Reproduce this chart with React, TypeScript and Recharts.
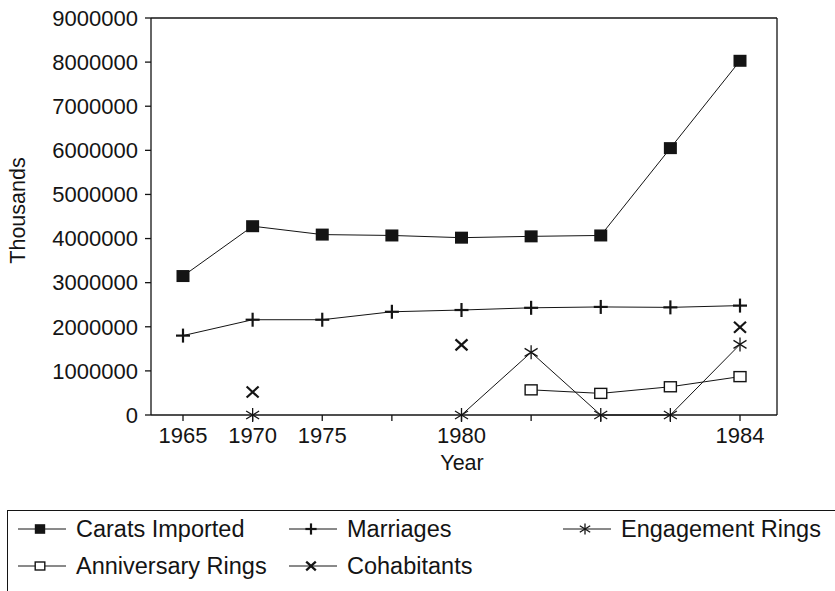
import React from 'react';
import { LineChart, Line, XAxis, YAxis, Label, CartesianGrid } from 'recharts';

const tickLabels = ['1965', '1970', '1975', '', '1980', '', '', '', '1984'];
const caratsImported = [3150000, 4280000, 4090000, 4070000, 4020000, 4050000, 4070000, 6050000, 8030000];
const marriages = [1800000, 2160000, 2160000, 2340000, 2380000, 2430000, 2450000, 2440000, 2480000];
const engagementRings = [null, 0, null, null, 0, 1420000, 0, 0, 1600000];
const anniversaryRings = [null, null, null, null, null, 570000, 490000, 640000, 870000];
const cohabitants = [null, 520000, null, null, 1590000, null, null, null, 1990000];
const yTicks = [0, 1000000, 2000000, 3000000, 4000000, 5000000, 6000000, 7000000, 8000000, 9000000];

const seriesNames = ['Carats Imported', 'Marriages', 'Engagement Rings', 'Anniversary Rings', 'Cohabitants'];
const seriesKeys = ['carats', 'marriages', 'engagement', 'anniversary', 'cohabitants'];
const markerTypes = ['filledSquare', 'plus', 'asterisk', 'openSquare', 'cross'];

const data = tickLabels.map((_, i) => ({
  idx: i,
  carats: caratsImported[i],
  marriages: marriages[i],
  engagement: engagementRings[i],
  anniversary: anniversaryRings[i],
  cohabitants: cohabitants[i],
}));

const INK = '#141414';
const FONT = '"Liberation Sans", Arial, Helvetica, sans-serif';

function Marker({ type, cx, cy, s = 1 }: { type: string; cx: number; cy: number; s?: number }) {
  switch (type) {
    case 'filledSquare':
      return <rect x={cx - 6.5 * s} y={cy - 6 * s} width={13 * s} height={12 * s} fill={INK} />;
    case 'plus':
      return (
        <g stroke={INK} strokeWidth={2.2}>
          <line x1={cx - 7 * s} y1={cy} x2={cx + 7 * s} y2={cy} />
          <line x1={cx} y1={cy - 7 * s} x2={cx} y2={cy + 7 * s} />
        </g>
      );
    case 'asterisk':
      return (
        <g stroke={INK} strokeWidth={1.3}>
          <line x1={cx} y1={cy - 7 * s} x2={cx} y2={cy + 7 * s} />
          <line x1={cx - 6.5 * s} y1={cy - 4 * s} x2={cx + 6.5 * s} y2={cy + 4 * s} />
          <line x1={cx - 6.5 * s} y1={cy + 4 * s} x2={cx + 6.5 * s} y2={cy - 4 * s} />
        </g>
      );
    case 'openSquare':
      return <rect x={cx - 6 * s} y={cy - 5 * s} width={12 * s} height={10 * s} fill="#fff" stroke={INK} strokeWidth={1.4} />;
    case 'cross':
      return (
        <g stroke={INK} strokeWidth={2.2}>
          <line x1={cx - 6 * s} y1={cy - 5.5 * s} x2={cx + 6 * s} y2={cy + 5.5 * s} />
          <line x1={cx - 6 * s} y1={cy + 5.5 * s} x2={cx + 6 * s} y2={cy - 5.5 * s} />
        </g>
      );
    default:
      return null;
  }
}

const makeDot = (type: string) => (props: any) => {
  const { cx, cy, value, index } = props;
  if (value === null || value === undefined || cx == null || cy == null || isNaN(cy)) {
    return <g key={`e-${type}-${index}`} />;
  }
  return (
    <g key={`d-${type}-${index}`}>
      <Marker type={type} cx={cx} cy={cy} />
    </g>
  );
};

const YLabel = (props: any) => {
  const vb = props.viewBox || { x: 0, y: 0, width: 0, height: 0 };
  const x = vb.x + 7;
  const y = vb.y + vb.height / 2 - 6;
  return (
    <text
      x={x}
      y={y}
      transform={`rotate(-90 ${x} ${y})`}
      textAnchor="middle"
      dominantBaseline="central"
      fontSize={21.5}
      fontFamily={FONT}
      fill={INK}
    >
      Thousands
    </text>
  );
};

const XLabel = (props: any) => {
  const vb = props.viewBox || { x: 0, y: 0, width: 0, height: 0 };
  return (
    <text
      x={vb.x + vb.width / 2 - 2}
      y={vb.y + 48}
      textAnchor="middle"
      dominantBaseline="central"
      fontSize={21.5}
      fontFamily={FONT}
      fill={INK}
    >
      Year
    </text>
  );
};

const legendCols = [10, 281, 555];
const legendRows = [18, 55];

export default function App() {
  return (
    <div style={{ position: 'absolute', left: 0, top: 0, width: 835, height: 591, background: '#fff', overflow: 'hidden' }}>
      <LineChart width={835} height={505} data={data} margin={{ top: 18, right: 58, bottom: 60, left: 11 }}>
        <CartesianGrid
          stroke={INK}
          strokeWidth={1.3}
          horizontalCoordinatesGenerator={(p: any) => [p.offset.top]}
          verticalCoordinatesGenerator={(p: any) => [p.offset.left + p.offset.width]}
        />
        <XAxis
          dataKey="idx"
          type="category"
          padding={{ left: 32, right: 37 }}
          tickFormatter={(v: any, i: number) => tickLabels[i] ?? ''}
          interval={0}
          height={30}
          tickSize={6}
          tickMargin={6}
          stroke={INK}
          strokeWidth={1.3}
          tick={{ fontSize: 22, fontFamily: FONT, fill: INK }}
        >
          <Label content={<XLabel />} />
        </XAxis>
        <YAxis
          domain={[0, 9000000]}
          ticks={yTicks}
          interval={0}
          width={140}
          tickSize={6}
          tickMargin={7}
          stroke={INK}
          strokeWidth={1.3}
          tickFormatter={(v: number) => String(v)}
          tick={{ fontSize: 22, fontFamily: FONT, fill: INK }}
        >
          <Label content={<YLabel />} />
        </YAxis>
        {seriesKeys.map((k, i) => (
          <Line
            key={k}
            dataKey={k}
            name={seriesNames[i]}
            stroke={INK}
            strokeWidth={1}
            dot={makeDot(markerTypes[i])}
            activeDot={false}
            isAnimationActive={false}
            connectNulls={false}
            type="linear"
          />
        ))}
      </LineChart>
      <div
        style={{
          position: 'absolute',
          left: 7,
          top: 510,
          width: 840,
          height: 100,
          borderTop: `1.5px solid ${INK}`,
          borderLeft: `1.5px solid ${INK}`,
          fontFamily: FONT,
          fontSize: 23.5,
          color: INK,
        }}
      >
        {seriesNames.map((name, i) => (
          <div
            key={name}
            style={{
              position: 'absolute',
              left: legendCols[i % 3],
              top: legendRows[Math.floor(i / 3)] - 15,
              height: 30,
              display: 'flex',
              alignItems: 'center',
              whiteSpace: 'nowrap',
            }}
          >
            <svg width={48} height={20} style={{ display: 'block' }}>
              <line x1={0} y1={10} x2={48} y2={10} stroke={INK} strokeWidth={1} />
              <Marker type={markerTypes[i]} cx={22} cy={10} s={0.8} />
            </svg>
            <span style={{ marginLeft: 10, lineHeight: '30px' }}>{name}</span>
          </div>
        ))}
      </div>
    </div>
  );
}
